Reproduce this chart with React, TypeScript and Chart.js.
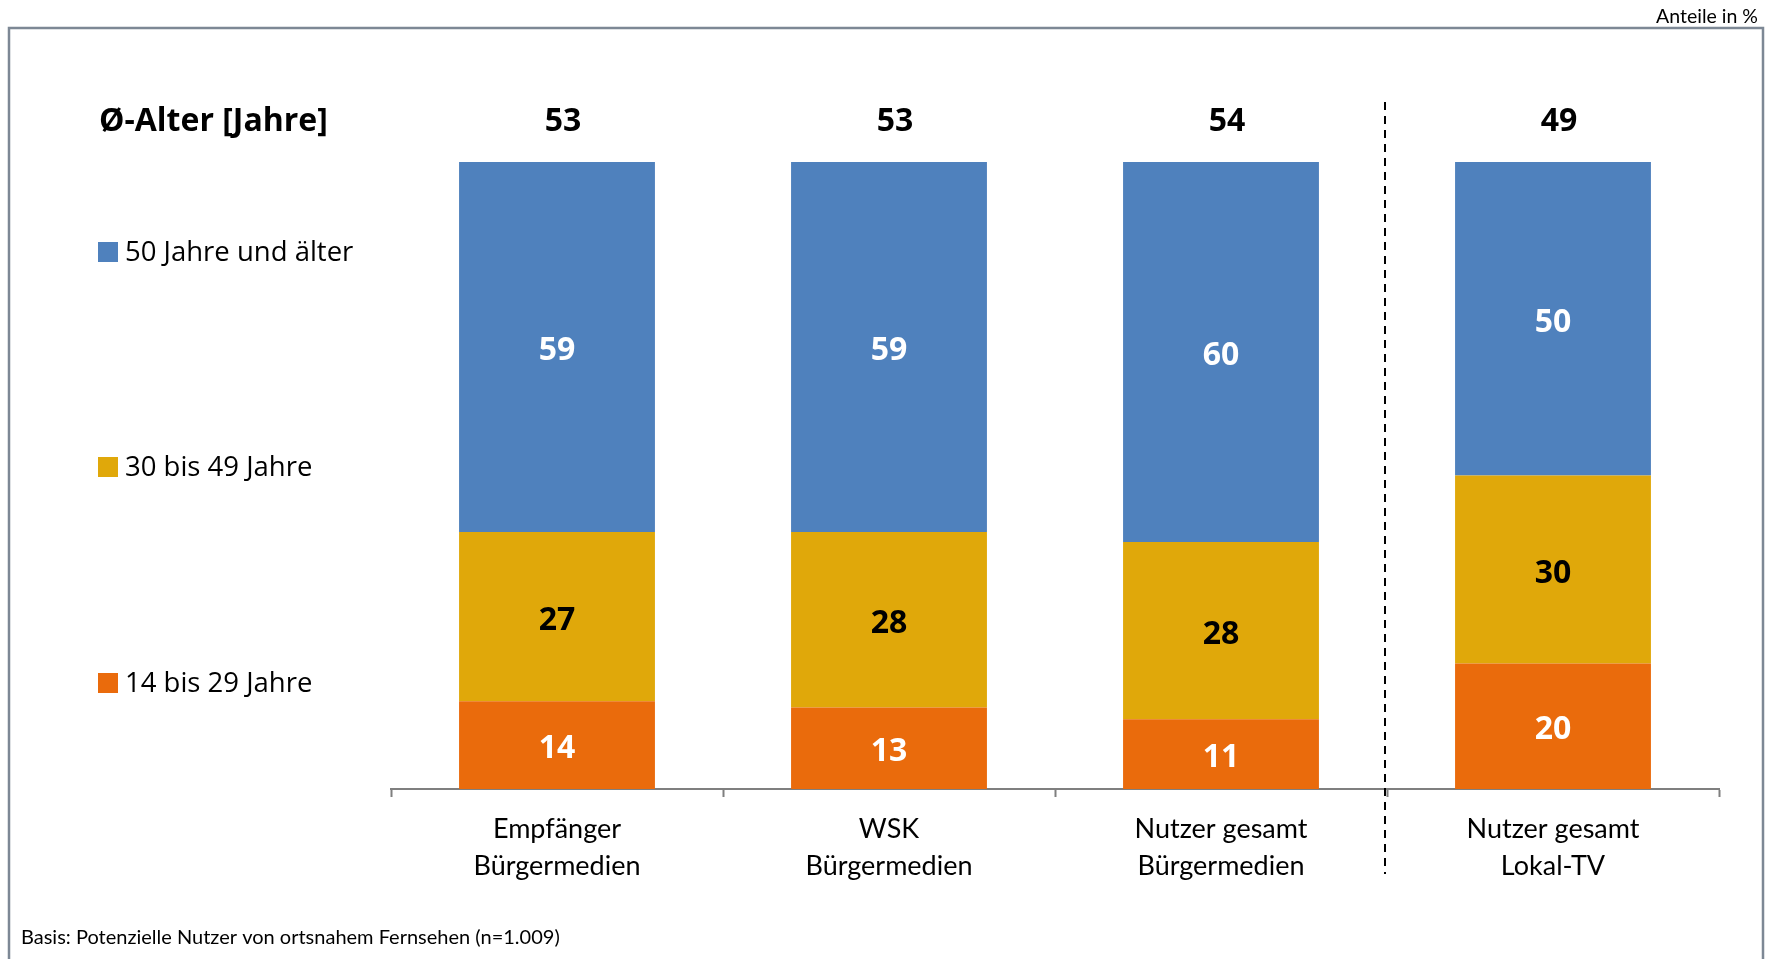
import React, { useEffect, useRef } from "react";
import { Chart, registerables } from "chart.js";

Chart.register(...registerables);

const categories: string[][] = [
  ["Empfänger", "Bürgermedien"],
  ["WSK", "Bürgermedien"],
  ["Nutzer gesamt", "Bürgermedien"],
  ["Nutzer gesamt", "Lokal-TV"],
];
const age14to29 = [14, 13, 11, 20];
const age30to49 = [27, 28, 28, 30];
const age50plus = [59, 59, 60, 50];
const avgAge = [53, 53, 54, 49];
const seriesNames = ["14 bis 29 Jahre", "30 bis 49 Jahre", "50 Jahre und älter"];
const seriesColors = ["#EA6B0C", "#E0A80A", "#4F81BD"];
const labelColors = ["#FFFFFF", "#000000", "#FFFFFF"];
const avgTitle = "Ø-Alter [Jahre]";
const unitNote = "Anteile in %";
const baseNote = "Basis: Potenzielle Nutzer von ortsnahem Fernsehen (n=1.009)";

const W = 1772;
const H = 959;

export default function App() {
  const ref = useRef<HTMLCanvasElement>(null);

  useEffect(() => {
    const canvas = ref.current;
    if (!canvas) return;
    const raw = [age14to29, age30to49, age50plus];
    const totals = categories.map((_, i) => raw.reduce((s, arr) => s + arr[i], 0));
    const shares = raw.map((arr) => arr.map((v, i) => (v / totals[i]) * 100));

    const overlay = {
      id: "overlay",
      beforeDraw(chart: any) {
        const ctx = chart.ctx;
        ctx.save();
        ctx.strokeStyle = "#7d8895";
        ctx.lineWidth = 2.5;
        ctx.beginPath();
        ctx.moveTo(9, H);
        ctx.lineTo(9, 28);
        ctx.lineTo(1763, 28);
        ctx.lineTo(1763, H);
        ctx.stroke();
        ctx.fillStyle = "#000";
        ctx.textBaseline = "middle";
        ctx.textAlign = "right";
        ctx.font = "19.5px Lato";
        ctx.fillText(unitNote, 1758, 17);
        ctx.textAlign = "left";
        ctx.font = "20px Lato";
        ctx.fillText(baseNote, 21, 938);
        ctx.restore();
      },
      afterDatasetsDraw(chart: any) {
        const ctx = chart.ctx;
        const xs = chart.scales.x;
        ctx.save();
        // segment labels
        ctx.textAlign = "center";
        ctx.textBaseline = "middle";
        ctx.font = "bold 32px 'Open Sans'";
        chart.data.datasets.forEach((ds: any, di: number) => {
          const meta = chart.getDatasetMeta(di);
          meta.data.forEach((bar: any, i: number) => {
            ctx.fillStyle = labelColors[di];
            ctx.fillText(String(raw[di][i]), bar.x, (bar.y + bar.base) / 2 + 4);
          });
        });
        // average age row
        ctx.fillStyle = "#000";
        ctx.textAlign = "left";
        ctx.fillText(avgTitle, 99, 122);
        ctx.textAlign = "center";
        avgAge.forEach((v, i) => {
          ctx.fillText(String(v), xs.getPixelForValue(i) + 6, 122);
        });
        // legend
        ctx.font = "27.5px 'Open Sans'";
        ctx.textAlign = "left";
        const legendY = [683, 467, 252];
        seriesNames.forEach((name, di) => {
          ctx.fillStyle = seriesColors[di];
          ctx.fillRect(98, legendY[di] - 10, 20, 20);
          ctx.fillStyle = "#000";
          ctx.fillText(name, 125, legendY[di] + 1);
        });
        // dashed separator
        const sepX = (xs.getPixelForValue(2) + xs.getPixelForValue(3)) / 2 - 2;
        ctx.strokeStyle = "#000";
        ctx.lineWidth = 2;
        ctx.setLineDash([8, 6]);
        ctx.beginPath();
        ctx.moveTo(sepX, 102);
        ctx.lineTo(sepX, 874);
        ctx.stroke();
        ctx.restore();
      },
    };

    const chart = new Chart(canvas, {
      type: "bar",
      data: {
        labels: categories,
        datasets: seriesNames.map((name, di) => ({
          label: name,
          data: shares[di],
          backgroundColor: seriesColors[di],
          borderWidth: 0,
          barPercentage: 0.59,
          categoryPercentage: 1,
        })),
      },
      options: {
        responsive: false,
        animation: false,
        devicePixelRatio: 1,
        layout: { padding: { left: 391, right: 53, top: 162, bottom: 0 } },
        plugins: { legend: { display: false }, tooltip: { enabled: false }, title: { display: false } },
        scales: {
          x: {
            stacked: true,
            grid: {
              offset: true,
              drawOnChartArea: false,
              drawTicks: true,
              tickLength: 8,
              tickWidth: 2,
              tickColor: "#7f7f7f",
            },
            border: { display: true, color: "#7f7f7f", width: 2 },
            ticks: {
              color: "#000",
              padding: 14,
              font: { family: "Lato", size: 27, lineHeight: 1.37 },
            },
            afterFit: (scale: any) => {
              scale.height = 170;
            },
          },
          y: {
            stacked: true,
            display: false,
            min: 0,
            max: 100,
          },
        },
      },
      plugins: [overlay],
    });
    return () => chart.destroy();
  }, []);

  return (
    <div style={{ position: "fixed", left: 0, top: 0, width: W, height: H, background: "#fff" }}>
      <canvas ref={ref} width={W} height={H} style={{ width: W, height: H, display: "block" }} />
    </div>
  );
}
